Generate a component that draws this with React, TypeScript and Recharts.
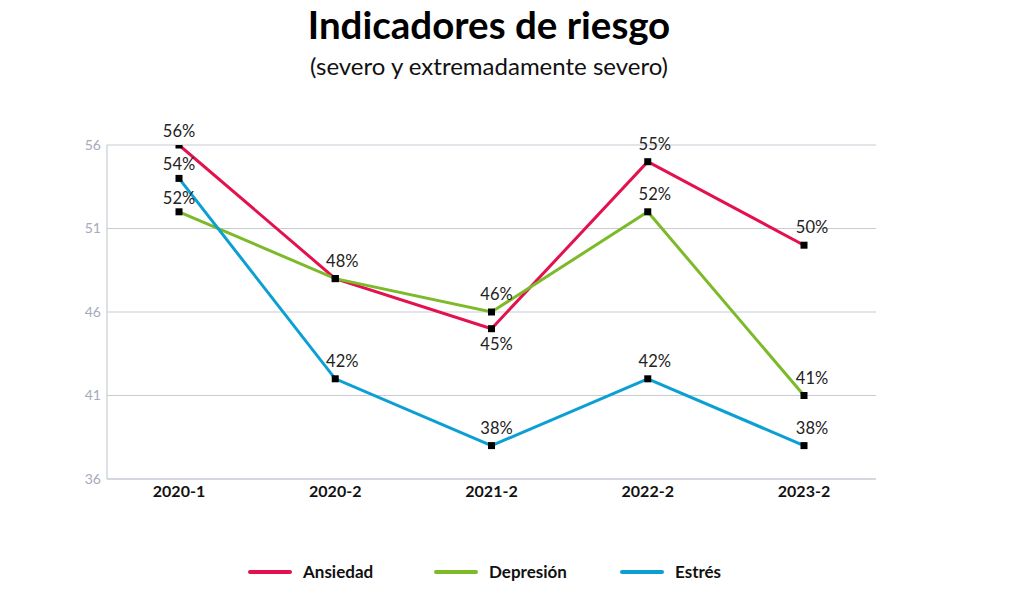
import React from "react";
import { LineChart, Line, XAxis, YAxis, CartesianGrid, Legend, LabelList } from "recharts";

const categories = ["2020-1", "2020-2", "2021-2", "2022-2", "2023-2"];
const ansiedad = [56, 48, 45, 55, 50];
const depresion = [52, 48, 46, 52, 41];
const estres = [54, 42, 38, 42, 38];
const yTicks = [36, 41, 46, 51, 56];

// label placement per point: "top", "bottom" or "none"
const ansiedadLabelPos = ["top", "top", "bottom", "top", "top"];
const depresionLabelPos = ["top", "none", "top", "top", "top"];
const estresLabelPos = ["top", "top", "top", "top", "top"];
// horizontal nudge of labels per category
const labelDx = [0, 7, 5, 7, 8];

const seriesMeta = [
  { key: "ansiedad", name: "Ansiedad", color: "#e3124f", pos: ansiedadLabelPos },
  { key: "depresion", name: "Depresión", color: "#7cba2a", pos: depresionLabelPos },
  { key: "estres", name: "Estrés", color: "#0c9fd3", pos: estresLabelPos },
];

const data = categories.map((c, i) => ({
  cat: c,
  ansiedad: ansiedad[i],
  depresion: depresion[i],
  estres: estres[i],
}));

const FONT = "Lato, 'Open Sans', sans-serif";

const SquareDot = (props: any) => {
  const { cx, cy } = props;
  if (cx == null || cy == null) return null;
  return <rect x={cx - 3.5} y={cy - 3.5} width={7} height={7} fill="#000" />;
};

const makeLabel = (pos: string[]) => (props: any) => {
  const { x, y, value, index } = props;
  const p = pos[index];
  if (p === "none") return null;
  const ty = p === "bottom" ? y + 21 : index === 0 ? y - 8 : y - 12;
  return (
    <text x={x + labelDx[index]} y={ty} textAnchor="middle" fontFamily={FONT} fontSize={16.5} fill="#222">
      {value}%
    </text>
  );
};

const LegendContent = () => (
  <div style={{ display: "flex", fontFamily: FONT }}>
    {seriesMeta.map((s) => (
      <div key={s.key} style={{ width: 186, display: "flex", alignItems: "center" }}>
        <div style={{ width: 44, height: 4, borderRadius: 2, background: s.color }} />
        <span style={{ marginLeft: 11, fontWeight: 700, fontSize: 17, color: "#111" }}>{s.name}</span>
      </div>
    ))}
  </div>
);

export default function App() {
  return (
    <div style={{ position: "absolute", left: 0, top: 0, width: 1024, height: 605, background: "#fff" }}>
      <div
        style={{
          position: "absolute",
          left: 0,
          width: 978,
          top: 1,
          textAlign: "center",
          fontFamily: FONT,
          fontWeight: 700,
          fontSize: 38.5,
          color: "#000",
        }}
      >
        Indicadores de riesgo
      </div>
      <div
        style={{
          position: "absolute",
          left: 0,
          width: 978,
          top: 51,
          textAlign: "center",
          fontFamily: FONT,
          fontSize: 24,
          color: "#111",
        }}
      >
        (severo y extremadamente severo)
      </div>
      <div style={{ position: "absolute", left: 0, top: 0 }}>
        <LineChart
          width={1024}
          height={605}
          data={data}
          margin={{ top: 145, right: 148, left: 47, bottom: 65 }}
        >
          <CartesianGrid vertical={false} stroke="#c6cbd4" strokeWidth={1.2} />
          <XAxis
            dataKey="cat"
            axisLine={{ stroke: "#c6cbd4", strokeWidth: 1.2 }}
            tickLine={false}
            padding={{ left: 72, right: 72 }}
            tick={{ fontFamily: FONT, fontWeight: 700, fontSize: 16, fill: "#111" }}
            tickMargin={1}
            height={40}
          />
          <YAxis
            domain={[36, 56]}
            ticks={yTicks}
            width={60}
            axisLine={{ stroke: "#c6cbd4", strokeWidth: 1.2 }}
            tickLine={false}
            tickMargin={0}
            tick={{ fontFamily: FONT, fontSize: 14, fill: "#a3abba" }}
            allowDataOverflow
          />
          <Legend
            content={<LegendContent />}
            wrapperStyle={{ position: "absolute", left: 248, top: 561, width: 600 }}
          />
          {seriesMeta.map((s) => (
            <Line
              key={s.key}
              type="linear"
              dataKey={s.key}
              name={s.name}
              stroke={s.color}
              strokeWidth={3}
              dot={<SquareDot />}
              activeDot={false}
              isAnimationActive={false}
            >
              <LabelList dataKey={s.key} content={makeLabel(s.pos)} />
            </Line>
          ))}
        </LineChart>
      </div>
    </div>
  );
}
